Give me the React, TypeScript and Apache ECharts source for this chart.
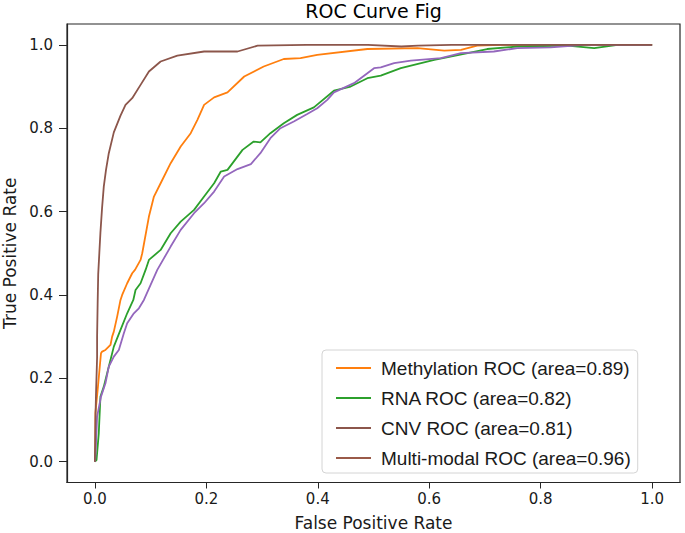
import React, { useEffect, useRef } from "react";
import * as echarts from "echarts";

const tickValues = [0, 0.2, 0.4, 0.6, 0.8, 1.0];

const seriesNames = [
  "Methylation ROC (area=0.89)",
  "RNA ROC (area=0.82)",
  "CNV ROC (area=0.81)",
  "Multi-modal ROC (area=0.96)",
];
const lineColors = ["#ff7f0e", "#2ca02c", "#9467bd", "#8c564b"];
const legendColors = ["#ff7f0e", "#2ca02c", "#8c564b", "#9a5a48"];

const methFpr = [0, 0.001, 0.001, 0.005, 0.011, 0.013, 0.019, 0.028, 0.031, 0.034, 0.04, 0.046, 0.049, 0.058, 0.067, 0.072, 0.082, 0.085, 0.097, 0.106, 0.118, 0.136, 0.154, 0.172, 0.184, 0.196, 0.214, 0.238, 0.268, 0.303, 0.339, 0.369, 0.399, 0.489, 0.579, 0.627, 0.657, 0.686, 0.728, 1.0];
const methTpr = [0, 0.036, 0.117, 0.172, 0.26, 0.264, 0.268, 0.28, 0.3, 0.312, 0.348, 0.388, 0.4, 0.428, 0.452, 0.46, 0.484, 0.5, 0.588, 0.636, 0.668, 0.716, 0.756, 0.788, 0.82, 0.856, 0.874, 0.886, 0.924, 0.948, 0.966, 0.968, 0.976, 0.99, 0.992, 0.986, 0.988, 0.998, 1.0, 1.0];

const rnaFpr = [0, 0.003, 0.007, 0.01, 0.016, 0.022, 0.028, 0.034, 0.046, 0.058, 0.069, 0.073, 0.082, 0.091, 0.097, 0.118, 0.136, 0.154, 0.178, 0.196, 0.214, 0.226, 0.238, 0.265, 0.285, 0.297, 0.315, 0.339, 0.363, 0.393, 0.429, 0.459, 0.489, 0.513, 0.549, 0.609, 0.638, 0.669, 0.704, 0.758, 0.848, 0.896, 0.938, 1.0];
const rnaTpr = [0, 0.004, 0.068, 0.156, 0.18, 0.212, 0.244, 0.276, 0.316, 0.356, 0.388, 0.412, 0.428, 0.46, 0.484, 0.508, 0.548, 0.576, 0.604, 0.636, 0.668, 0.696, 0.7, 0.748, 0.768, 0.766, 0.788, 0.812, 0.832, 0.85, 0.89, 0.9, 0.92, 0.926, 0.944, 0.964, 0.972, 0.98, 0.99, 0.996, 0.998, 0.992, 1.0, 1.0];

const cnvFpr = [0, 0.001, 0.004, 0.011, 0.019, 0.025, 0.034, 0.043, 0.052, 0.058, 0.07, 0.079, 0.088, 0.112, 0.136, 0.154, 0.178, 0.196, 0.214, 0.232, 0.256, 0.28, 0.297, 0.315, 0.333, 0.357, 0.381, 0.399, 0.417, 0.429, 0.465, 0.501, 0.513, 0.537, 0.567, 0.621, 0.657, 0.716, 0.758, 0.818, 0.878, 1.0];
const cnvTpr = [0, 0.012, 0.108, 0.156, 0.188, 0.228, 0.252, 0.268, 0.308, 0.332, 0.356, 0.368, 0.388, 0.46, 0.516, 0.556, 0.596, 0.62, 0.648, 0.684, 0.702, 0.714, 0.74, 0.776, 0.8, 0.816, 0.834, 0.848, 0.868, 0.886, 0.908, 0.944, 0.946, 0.956, 0.962, 0.968, 0.98, 0.984, 0.992, 0.994, 1.0, 1.0];

const multiFpr = [0, 0.001, 0.002, 0.004, 0.004, 0.005, 0.006, 0.008, 0.01, 0.013, 0.016, 0.02, 0.025, 0.034, 0.046, 0.055, 0.067, 0.082, 0.097, 0.118, 0.148, 0.196, 0.256, 0.292, 0.38, 0.43, 0.49, 0.55, 0.58, 0.64, 0.7, 0.85, 1.0];
const multiTpr = [0, 0.1, 0.16, 0.25, 0.3, 0.38, 0.45, 0.5, 0.55, 0.61, 0.66, 0.7, 0.74, 0.79, 0.83, 0.856, 0.872, 0.904, 0.936, 0.96, 0.974, 0.984, 0.984, 0.998, 1.0, 1.0, 1.0, 0.996, 0.998, 1.0, 1.0, 1.0, 1.0];

const curves = [
  [methFpr, methTpr],
  [rnaFpr, rnaTpr],
  [cnvFpr, cnvTpr],
  [multiFpr, multiTpr],
];

const textColor = "#1a1a1a";
const dejavu = "DejaVu Sans";

export default function App() {
  const ref = useRef<HTMLDivElement>(null);

  useEffect(() => {
    if (!ref.current) return;
    const chart = echarts.init(ref.current, undefined, { renderer: "svg" });
    const axisCommon = {
      type: "value" as const,
      min: -0.05,
      max: 1.05,
      axisLine: { show: true, onZero: false, lineStyle: { color: "#262626", width: 1.2 } },
      splitLine: { show: false },
      nameLocation: "middle" as const,
      nameTextStyle: { fontSize: 17, fontFamily: dejavu, color: textColor },
    };
    chart.setOption({
      animation: false,
      backgroundColor: "#ffffff",
      grid: {
        left: 67,
        right: 5,
        top: 24,
        bottom: 50.5,
        containLabel: false,
        outerBoundsMode: "none",
        show: true,
        borderColor: "#262626",
        borderWidth: 1.2,
        backgroundColor: "transparent",
      },
      graphic: [
        {
          type: "text",
          x: 373.5,
          y: 11,
          style: {
            text: "ROC Curve Fig",
            font: `19px "${dejavu}"`,
            fill: "#000",
            align: "center",
            verticalAlign: "middle",
          },
        },
      ],
      xAxis: {
        ...axisCommon,
        name: "False Positive Rate",
        nameGap: 32,
        axisTick: { show: true, inside: false, length: 6, customValues: tickValues, lineStyle: { color: "#262626" } },
        axisLabel: {
          customValues: tickValues,
          formatter: (v: number) => v.toFixed(1),
          margin: 9,
          fontSize: 15,
          fontFamily: dejavu,
          color: textColor,
        },
      },
      yAxis: {
        ...axisCommon,
        name: "True Positive Rate",
        nameGap: 46,
        axisTick: { show: true, inside: false, length: 8, customValues: tickValues, lineStyle: { color: "#262626" } },
        axisLabel: {
          customValues: tickValues,
          formatter: (v: number) => v.toFixed(1),
          margin: 14,
          fontSize: 15,
          fontFamily: dejavu,
          color: textColor,
        },
      },
      legend: {
        orient: "vertical",
        left: 322,
        top: 350,
        padding: [6, 7, 3, 14],
        itemGap: 6,
        itemWidth: 35,
        itemHeight: 2,
        icon: "rect",
        backgroundColor: "#ffffff",
        borderColor: "#d4d4d4",
        borderWidth: 1,
        borderRadius: 4,
        textStyle: {
          fontSize: 19,
          fontFamily: "Liberation Sans",
          color: textColor,
          lineHeight: 24,
          padding: [0, 0, 0, 5],
        },
        data: seriesNames.map((name, i) => ({
          name,
          itemStyle: { color: legendColors[i] },
          lineStyle: { color: legendColors[i] },
        })),
      },
      series: seriesNames.map((name, i) => ({
        name,
        type: "line",
        showSymbol: false,
        symbol: "none",
        color: lineColors[i],
        lineStyle: { color: lineColors[i], width: 1.8 },
        data: curves[i][0].map((x, j) => [x, curves[i][1][j]]),
        z: 2 + i,
      })),
    });
    return () => chart.dispose();
  }, []);

  return (
    <div
      ref={ref}
      style={{ position: "fixed", left: 0, top: 0, width: 685, height: 533 }}
    />
  );
}
